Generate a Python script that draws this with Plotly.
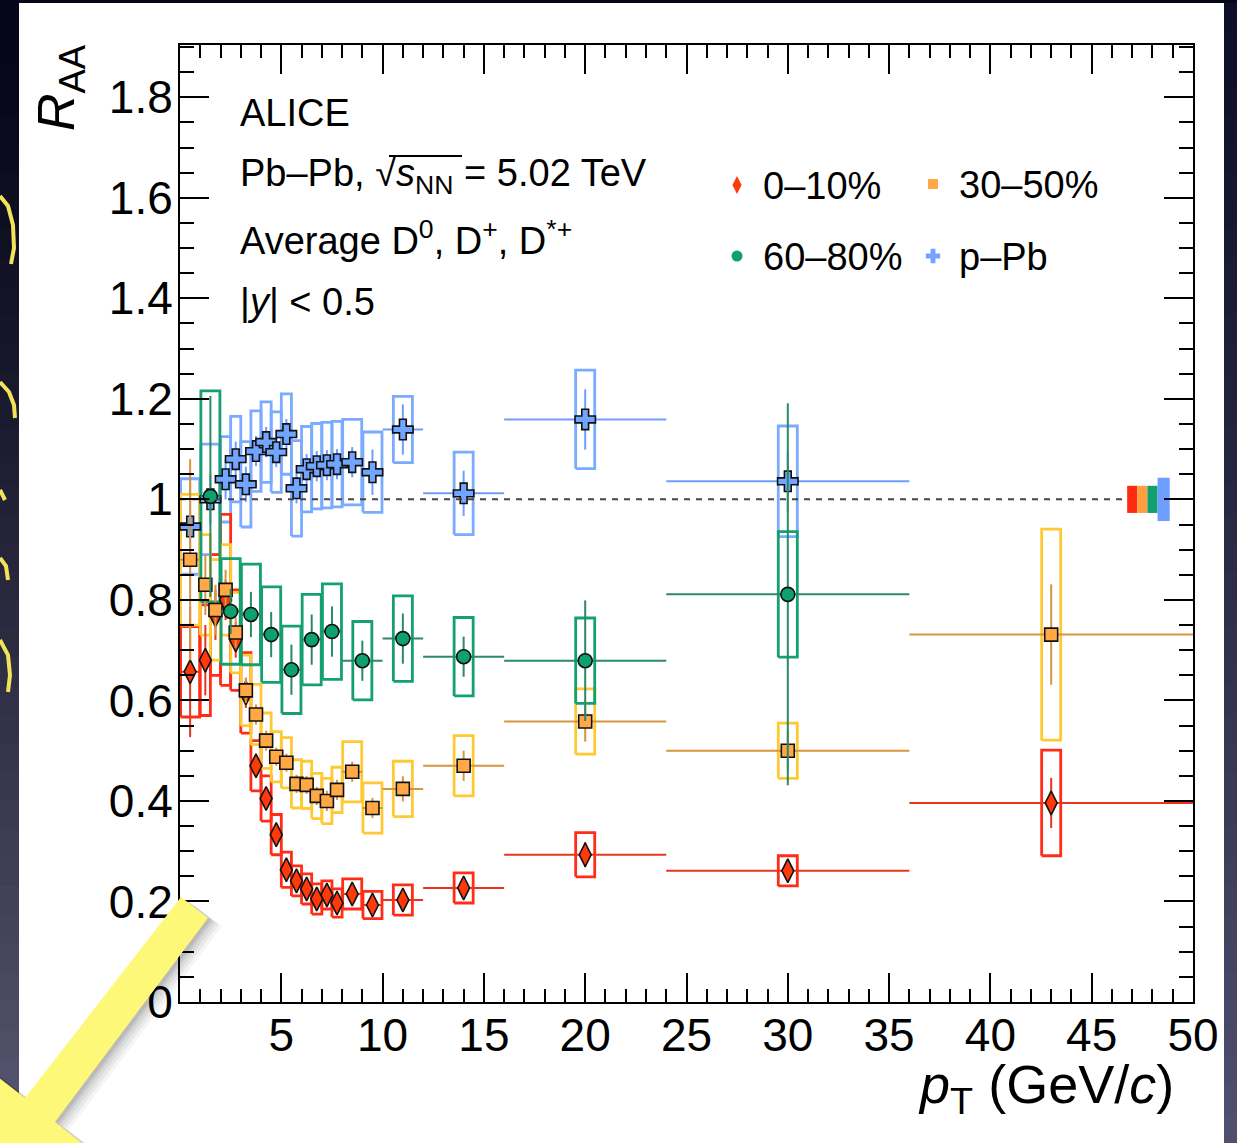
import plotly.graph_objects as go

# ---------------------------------------------------------------------------
# D-meson nuclear modification factor, average of D0, D+, D*+ at |y| < 0.5
# ---------------------------------------------------------------------------

# Pb-Pb 0-10%
c010_edges = [0, 1, 1.5, 2, 2.5, 3, 3.5, 4, 4.5, 5, 5.5, 6, 6.5, 7, 7.5, 8, 9, 10, 12, 16, 24, 36, 50]
c010_raa = [0.657, 0.68, 0.77, 0.80, 0.72, 0.615, 0.47, 0.405, 0.333, 0.263, 0.241, 0.225,
            0.205, 0.213, 0.197, 0.215, 0.193, 0.203, 0.227, 0.293, 0.261, 0.396]
c010_stat = [0.13, 0.07, 0.05, 0.04, 0.035, 0.03, 0.02, 0.018, 0.015, 0.012, 0.012, 0.012,
             0.012, 0.012, 0.012, 0.012, 0.013, 0.013, 0.015, 0.025, 0.022, 0.05]
c010_syst = [0.09, 0.11, 0.12, 0.17, 0.10, 0.08, 0.05, 0.045, 0.04, 0.035, 0.03, 0.03,
             0.03, 0.028, 0.028, 0.03, 0.027, 0.03, 0.03, 0.044, 0.03, 0.105]

# Pb-Pb 30-50%
c3050_edges = [0, 1, 1.5, 2, 2.5, 3, 3.5, 4, 4.5, 5, 5.5, 6, 6.5, 7, 7.5, 8, 9, 10, 12, 16, 24, 36, 50]
c3050_raa = [0.88, 0.83, 0.78, 0.82, 0.735, 0.62, 0.572, 0.52, 0.488, 0.476, 0.434, 0.432,
             0.41, 0.40, 0.422, 0.458, 0.386, 0.424, 0.47, 0.558, 0.50, 0.731]
c3050_stat = [0.2, 0.06, 0.05, 0.04, 0.03, 0.025, 0.02, 0.02, 0.018, 0.018, 0.018, 0.018,
              0.018, 0.02, 0.02, 0.02, 0.02, 0.025, 0.03, 0.04, 0.04, 0.10]
c3050_syst = [0.13, 0.10, 0.10, 0.09, 0.08, 0.07, 0.06, 0.055, 0.05, 0.05, 0.048, 0.047,
              0.045, 0.045, 0.045, 0.06, 0.05, 0.055, 0.06, 0.065, 0.055, 0.21]

# Pb-Pb 60-80%
c6080_edges = [1, 2, 3, 4, 5, 6, 7, 8, 10, 12, 16, 24, 36]
c6080_raa = [1.006, 0.777, 0.771, 0.731, 0.661, 0.721, 0.737, 0.679, 0.723, 0.687, 0.679, 0.811]
c6080_stat = [0.20, 0.045, 0.045, 0.045, 0.05, 0.05, 0.05, 0.04, 0.05, 0.04, 0.12, 0.38]
c6080_syst = [0.21, 0.105, 0.10, 0.095, 0.087, 0.09, 0.095, 0.078, 0.085, 0.078, 0.085, 0.125]

# p-Pb
ppb_edges = [0, 1, 2, 2.5, 3, 3.5, 4, 4.5, 5, 5.5, 6, 6.5, 7, 7.5, 8, 9, 10, 12, 16, 24, 36]
ppb_raa = [0.946, 1.0, 1.04, 1.08, 1.03, 1.096, 1.114, 1.094, 1.13, 1.022, 1.06, 1.066,
           1.068, 1.07, 1.074, 1.054, 1.139, 1.012, 1.159, 1.036]
ppb_stat = [0.10, 0.05, 0.04, 0.035, 0.035, 0.03, 0.03, 0.03, 0.03, 0.03, 0.03, 0.03,
            0.03, 0.03, 0.03, 0.045, 0.05, 0.045, 0.06, 0.06]
ppb_syst = [0.095, 0.11, 0.085, 0.085, 0.085, 0.08, 0.08, 0.08, 0.08, 0.095, 0.085, 0.085,
            0.085, 0.085, 0.085, 0.08, 0.066, 0.082, 0.098, 0.11]

# global normalisation uncertainties, drawn at R = 1 on the right
norm_labels = ["0–10%", "30–50%", "60–80%", "p–Pb"]
norm_unc = [0.027, 0.027, 0.027, 0.043]
norm_x_lo = [46.75, 47.25, 47.75, 48.25]
norm_x_hi = [47.25, 47.75, 48.25, 48.85]

x_ticks = [5, 10, 15, 20, 25, 30, 35, 40, 45, 50]
y_ticks = [0, 0.2, 0.4, 0.6, 0.8, 1.0, 1.2, 1.4, 1.6, 1.8]
y_tick_text = ["0", "0.2", "0.4", "0.6", "0.8", "1", "1.2", "1.4", "1.6", "1.8"]

# ---------------------------------------------------------------------------
W, H = 1237, 1143
PLOT_L, PLOT_R, PLOT_T, PLOT_B = 180, 1193, 45, 1002
FONT = "Liberation Sans, Arial, Helvetica, sans-serif"

series = [
    dict(name="p–Pb", edges=ppb_edges, raa=ppb_raa, stat=ppb_stat, syst=ppb_syst,
         box="#7aabff", bar="#6f9eff", fill="#72a5ff", symbol="cross", size=17),
    dict(name="0–10%", edges=c010_edges, raa=c010_raa, stat=c010_stat, syst=c010_syst,
         box="#ff2d18", bar="#e8361e", fill="#ff3a0a", symbol="diamond-tall", size=17),
    dict(name="30–50%", edges=c3050_edges, raa=c3050_raa, stat=c3050_stat, syst=c3050_syst,
         box="#ffc933", bar="#d8953f", fill="#ffa845", symbol="square", size=13),
    dict(name="60–80%", edges=c6080_edges, raa=c6080_raa, stat=c6080_stat, syst=c6080_syst,
         box="#14a070", bar="#2a8a64", fill="#0fa070", symbol="circle", size=14),
]


def centers(edges):
    return [(a + b) / 2 for a, b in zip(edges[:-1], edges[1:])]


def half_widths(edges):
    return [(b - a) / 2 for a, b in zip(edges[:-1], edges[1:])]


def box_outline(edges, vals, syst):
    xs, ys = [], []
    for c, hwb, v, s in zip(centers(edges), half_widths(edges), vals, syst):
        hw = min(hwb, 0.47)
        xs += [c - hw, c + hw, c + hw, c - hw, c - hw, None]
        ys += [v - s, v - s, v + s, v + s, v - s, None]
    return xs, ys


fig = go.Figure()

# systematic boxes
for s in series:
    bx, by = box_outline(s["edges"], s["raa"], s["syst"])
    fig.add_trace(go.Scatter(x=bx, y=by, mode="lines",
                             line=dict(color=s["box"], width=2.8),
                             hoverinfo="skip", showlegend=False))

# points with statistical uncertainties
for s in series:
    fig.add_trace(go.Scatter(
        x=centers(s["edges"]), y=s["raa"], mode="markers", name=s["name"],
        marker=dict(symbol=s["symbol"], size=s["size"], color=s["fill"],
                    line=dict(color="#111111", width=1.6)),
        error_y=dict(type="data", array=s["stat"], color=s["bar"], thickness=2, width=0),
        error_x=dict(type="data", array=half_widths(s["edges"]), color=s["bar"],
                     thickness=2, width=0),
        showlegend=False))

# reference line at unity
fig.add_trace(go.Scatter(x=[0, norm_x_lo[0]], y=[1, 1], mode="lines",
                         line=dict(color="#444444", width=2, dash="6px,6px"),
                         hoverinfo="skip", showlegend=False))

# normalisation boxes
norm_colors = ["#ff2a10", "#ffa040", "#12a070", "#6e9eff"]
for lo, hi, u, col in zip(norm_x_lo, norm_x_hi, norm_unc, norm_colors):
    fig.add_trace(go.Scatter(x=[lo, hi, hi, lo, lo], y=[1 - u, 1 - u, 1 + u, 1 + u, 1 - u],
                             mode="lines", fill="toself", fillcolor=col,
                             line=dict(color=col, width=0), hoverinfo="skip",
                             showlegend=False))

X_RANGE = (0, 50)
Y_RANGE = (0, 1.904)


def dx(px):
    return X_RANGE[0] + (px - PLOT_L) / (PLOT_R - PLOT_L) * (X_RANGE[1] - X_RANGE[0])


def dy(py):
    return Y_RANGE[0] + (PLOT_B - py) / (PLOT_B - PLOT_T) * (Y_RANGE[1] - Y_RANGE[0])


# legend (2 x 2)
legend_pos = [(737, 185), (933, 184), (737, 256), (933, 256)]
legend_items = [series[1], series[2], series[3], series[0]]
legend_sizes = [13, 10, 11, 12]
for (lx, ly), s, sz in zip(legend_pos, legend_items, legend_sizes):
    fig.add_trace(go.Scatter(x=[dx(lx)], y=[dy(ly)], mode="markers",
                             marker=dict(symbol=s["symbol"], size=sz, color=s["fill"],
                                         line=dict(width=0)),
                             hoverinfo="skip", showlegend=False))


def P(x, y):
    """Pixel position on the page -> paper coordinates of the plot area."""
    return (x - PLOT_L) / (PLOT_R - PLOT_L), (PLOT_B - y) / (PLOT_B - PLOT_T)


annotations = []


def text(px, py, s, size=38, xanchor="left", yanchor="middle", angle=0):
    x, y = P(px, py)
    annotations.append(dict(x=x, y=y, xref="paper", yref="paper", text=s, showarrow=False,
                            xanchor=xanchor, yanchor=yanchor, textangle=angle,
                            font=dict(family=FONT, size=size, color="black")))


text(238, 113, "ALICE")
text(238, 176, "Pb–Pb, √<i>s</i><sub>NN</sub> = 5.02 TeV")
text(238, 238, "Average D<sup>0</sup>, D<sup>+</sup>, D<sup>*+</sup>")
text(238, 302, "|<i>y</i>| < 0.5")
for (lx, ly), s in zip(legend_pos, legend_items):
    text(lx + 24, ly + 1, s["name"])
text(1176, 1088, "<i>p</i><sub>T</sub> (GeV/<i>c</i>)", size=54, xanchor="right")
text(60, 88, "<i>R</i><sub>AA</sub>", size=52, xanchor="center", angle=-90)

# ---------------------------------------------------------------------------
# slide background around the white panel
shapes = []


def rect(x0, y0, x1, y1, color, layer="below"):
    a0, b0 = P(x0, y0)
    a1, b1 = P(x1, y1)
    shapes.append(dict(type="rect", xref="paper", yref="paper", x0=a0, y0=b0, x1=a1, y1=b1,
                       fillcolor=color, line=dict(width=0), layer=layer))


n_strip = 40
for i in range(n_strip):
    t = i / (n_strip - 1)
    y0 = H * i / n_strip
    y1 = H * (i + 1) / n_strip + 1
    c_left = tuple(int(a + (b - a) * t ** 1.3) for a, b in zip((6, 6, 24), (88, 86, 112)))
    c_right = tuple(int(a + (b - a) * t ** 1.1) for a, b in zip((14, 14, 40), (80, 80, 110)))
    rect(0, y0, 19, y1, "rgb(%d,%d,%d)" % c_left)
    rect(1224, y0, W, y1, "rgb(%d,%d,%d)" % c_right)
rect(0, 0, W, 3, "#07071a")


def path(points, close=True):
    segs = []
    for i, (x, y) in enumerate(points):
        a, b = P(x, y)
        segs.append(("M" if i == 0 else "L") + " %.5f %.5f" % (a, b))
    return " ".join(segs) + (" Z" if close else "")


# hand-drawn marks at the left edge
for pts in [[(0, 196), (8, 206), (13, 225), (14, 248), (11, 264)],
            [(0, 382), (9, 392), (14, 405), (15, 418)],
            [(0, 490), (5, 500)],
            [(0, 558), (6, 566), (8, 580)],
            [(0, 640), (8, 655), (10, 675), (8, 692)]]:
    shapes.append(dict(type="path", xref="paper", yref="paper", path=path(pts, close=False),
                       line=dict(color="#f2e35a", width=4), layer="above"))

# yellow pointer arrow with a soft shadow
arrow = [(181, 897), (208, 918), (55, 1122), (118, 1171), (-26, 1198), (-38, 1049), (25, 1098)]
for off, alpha in [(14, 0.04), (11, 0.05), (8, 0.06), (5, 0.07), (3, 0.08)]:
    shapes.append(dict(type="path", xref="paper", yref="paper",
                       path=path([(x + off, y + off * 0.6) for x, y in arrow]),
                       fillcolor="rgba(0,0,0,%.2f)" % alpha, line=dict(width=0), layer="above"))
shapes.append(dict(type="path", xref="paper", yref="paper", path=path(arrow),
                   fillcolor="#fdf877", line=dict(width=0), layer="above"))

# bar of the square root sign
a0, b0 = P(389, 156)
a1, b1 = P(462, 156)
shapes.append(dict(type="line", xref="paper", yref="paper", x0=a0, y0=b0, x1=a1, y1=b1,
                   line=dict(color="black", width=2), layer="above"))

axis_common = dict(
    ticks="inside", ticklen=29, tickwidth=2, tickcolor="black",
    showline=True, linecolor="black", linewidth=2, mirror="ticks",
    showgrid=False, zeroline=False, automargin=False,
    tickfont=dict(family=FONT, size=46, color="black"),
)

fig.update_layout(
    width=W, height=H,
    margin=dict(l=PLOT_L, r=W - PLOT_R, t=PLOT_T, b=H - PLOT_B, pad=0),
    paper_bgcolor="white", plot_bgcolor="white",
    showlegend=False,
    xaxis=dict(range=list(X_RANGE), tickmode="array", tickvals=x_ticks, ticklabelstandoff=-8,
               minor=dict(tickmode="linear", tick0=0, dtick=1, ticks="inside", ticklen=13,
                          tickwidth=2, tickcolor="black", showgrid=False),
               **axis_common),
    yaxis=dict(range=list(Y_RANGE), tickmode="array", tickvals=y_ticks, ticktext=y_tick_text,
               ticklabelstandoff=-4,
               minor=dict(tickmode="linear", tick0=0, dtick=0.05, ticks="inside", ticklen=14,
                          tickwidth=2, tickcolor="black", showgrid=False),
               **axis_common),
    annotations=annotations,
    shapes=shapes,
)

fig.write_html("out.html")
